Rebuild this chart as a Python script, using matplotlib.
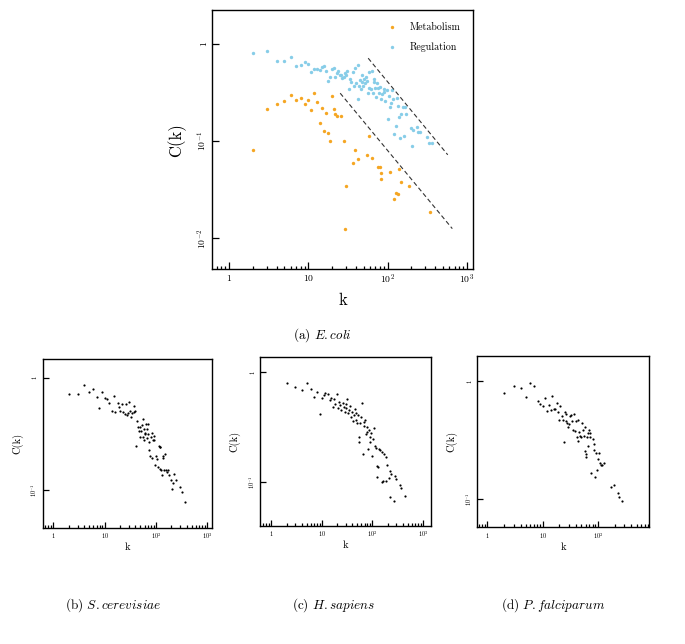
import matplotlib
matplotlib.use('Agg')
import matplotlib.pyplot as plt
from matplotlib.ticker import LogLocator, NullLocator

plt.rcParams['font.family'] = 'cmr10'
plt.rcParams['mathtext.fontset'] = 'cm'
plt.rcParams['axes.unicode_minus'] = False

# (a) E.coli - metabolism network
k_met = [2, 3, 4, 5, 6, 7, 8, 9, 10, 11, 12, 13, 14, 15, 16, 17, 18, 19, 20, 21, 22, 23, 26, 28, 29, 30,
         37, 39, 42, 55, 59, 64, 76, 80, 83, 82, 108, 122, 129, 135, 139, 148, 184, 346]
C_met = [0.082, 0.214, 0.241, 0.263, 0.299, 0.265, 0.280, 0.245, 0.265, 0.211, 0.318, 0.253, 0.155, 0.221,
         0.129, 0.196, 0.121, 0.0996, 0.292, 0.216, 0.189, 0.183, 0.182, 0.100, 0.0124, 0.0348, 0.060, 0.082,
         0.065, 0.0726, 0.114, 0.0676, 0.0542, 0.0542, 0.0474, 0.041, 0.0485, 0.0256, 0.029, 0.0284, 0.0517,
         0.0377, 0.0343, 0.0185]

# (a) E.coli - regulation network
k_reg = [2, 3, 4, 5, 6, 7, 8, 9, 10, 11, 12, 13, 14, 15, 16, 17, 18, 19, 20, 21, 22, 23, 24, 25, 26, 27, 28,
         29, 30, 31, 33, 34, 35, 37, 38, 39, 40, 42, 43, 44, 45, 46, 47, 48, 49, 51, 52, 53, 55, 56, 58, 59,
         61, 63, 65, 67, 68, 70, 72, 74, 76, 78, 81, 83, 86, 89, 91, 94, 97, 100, 103, 107, 110, 115, 118,
         122, 127, 132, 136, 140, 145, 149, 155, 161, 166, 172, 200, 201, 207, 236, 242, 255, 315, 332, 359]
C_reg = [0.807, 0.861, 0.668, 0.668, 0.746, 0.603, 0.605, 0.653, 0.628, 0.515,
         0.562, 0.557, 0.548, 0.589, 0.598, 0.536, 0.420, 0.457, 0.562, 0.575,
         0.457, 0.511, 0.536, 0.483, 0.478, 0.450, 0.465, 0.503, 0.480, 0.532,
         0.344, 0.440, 0.413, 0.523, 0.367, 0.575, 0.397, 0.608, 0.272, 0.367,
         0.430, 0.344, 0.409, 0.483, 0.373, 0.440, 0.397, 0.461, 0.420, 0.318,
         0.358, 0.515, 0.344, 0.536, 0.311, 0.406, 0.443, 0.350, 0.285, 0.403,
         0.355, 0.318, 0.361, 0.272, 0.306, 0.344, 0.323, 0.263, 0.334, 0.169,
         0.296, 0.223, 0.251, 0.334, 0.276, 0.118, 0.145, 0.278, 0.232, 0.177,
         0.108, 0.193, 0.228, 0.114, 0.228, 0.190, 0.137, 0.090, 0.130, 0.139,
         0.124, 0.124, 0.112, 0.097, 0.095]

# guide lines (slope -1)
guide_k = [[57, 573], [25.3, 654]]
guide_C = [[0.718, 0.0726], [0.313, 0.0126]]

# (b) S.cerevisiae
k_sc = [2, 3, 4, 5, 6, 7, 7.9, 8.9, 10, 11, 12, 14, 15, 16, 18, 19, 20, 21.4, 23, 24.5, 26, 27, 29, 29.4,
        31, 32.6, 34.6, 36.7, 37.8, 40, 41.4, 43, 45, 46.6, 48.8, 50, 51.8, 53.4, 55, 55.8, 57.5, 59.3, 60,
        62, 63.8, 65.8, 67.8, 69.8, 71, 73, 75, 76.4, 80, 83.6, 85, 87.5, 90, 93, 95.7, 101, 106, 109, 114,
        118, 120, 123, 127, 131, 135, 139, 143, 148, 157, 164, 171, 179, 196, 205, 218, 224, 245, 294, 316, 367]
C_sc = [0.716, 0.716, 0.855, 0.746, 0.798, 0.678, 0.542, 0.751, 0.664, 0.647,
        0.592, 0.509, 0.688, 0.500, 0.600, 0.545, 0.506, 0.580, 0.496, 0.479,
        0.584, 0.463, 0.489, 0.604, 0.506, 0.444, 0.489, 0.561, 0.499, 0.506,
        0.249, 0.415, 0.367, 0.339, 0.362, 0.299, 0.339, 0.377, 0.427, 0.295,
        0.348, 0.280, 0.325, 0.314, 0.388, 0.290, 0.348, 0.316, 0.388, 0.228,
        0.270, 0.202, 0.295, 0.192, 0.325, 0.280, 0.303, 0.277, 0.168, 0.202,
        0.188, 0.160, 0.247, 0.240, 0.156, 0.240, 0.150, 0.137, 0.202, 0.192,
        0.151, 0.210, 0.153, 0.146, 0.150, 0.137, 0.124, 0.103, 0.117, 0.140,
        0.124, 0.106, 0.097, 0.079]

# (c) H.sapiens
k_hs = [2, 3, 4, 5, 6, 7, 8, 9, 10, 10.8, 11.8, 13, 14.2, 15.3, 16.3, 17.3, 18.4, 19.9, 20.8, 21.8, 23.1,
        24.2, 25.7, 26.9, 28.2, 29.5, 30.4, 31.9, 32.9, 34.4, 36, 37.7, 38.8, 40.6, 42.6, 44.6, 46.6, 48,
        49.5, 51.1, 53.5, 55.2, 57.8, 60.4, 62.3, 65.3, 67.3, 69.4, 72.6, 74.9, 77.1, 79.6, 82, 84.6, 88.5,
        91.2, 95.5, 100, 103, 106, 111, 116, 122, 126, 130, 136, 144, 153, 158, 166, 173, 184, 187, 199,
        214, 228, 224, 238, 269, 286, 295, 349, 377, 439]
C_hs = [0.794, 0.741, 0.686, 0.794, 0.705, 0.601, 0.658, 0.415, 0.588, 0.622,
        0.644, 0.63, 0.560, 0.58, 0.488, 0.57, 0.515, 0.63, 0.471, 0.533,
        0.505, 0.455, 0.523, 0.488, 0.439, 0.516, 0.471, 0.57, 0.424, 0.455,
        0.495, 0.395, 0.436, 0.364, 0.41, 0.46, 0.37, 0.43, 0.349, 0.41,
        0.257, 0.234, 0.349, 0.39, 0.523, 0.181, 0.356, 0.325, 0.369, 0.275,
        0.289, 0.316, 0.201, 0.299, 0.257, 0.234, 0.283, 0.173, 0.246, 0.314,
        0.214, 0.204, 0.141, 0.111, 0.137, 0.200, 0.198, 0.101, 0.190, 0.103,
        0.181, 0.169, 0.103, 0.144, 0.109, 0.128, 0.074, 0.119, 0.068, 0.113,
        0.107, 0.0946, 0.0882, 0.0751]

# (d) P.falciparum
k_pf = [2, 3, 4, 5, 6, 7.1, 8.1, 9, 10, 11, 12, 13, 14, 15, 16, 17, 18, 19, 20, 21, 22, 23, 24, 25, 26,
        27, 28, 29, 30, 31.5, 32.9, 34.3, 35.7, 37.2, 38.8, 40.5, 41.6, 43.4, 44.6, 45.9, 47.8, 49.9, 51.3,
        53.5, 55.7, 58.1, 59.7, 61.5, 61, 63.2, 65, 65.9, 67.8, 70.6, 72.6, 75.7, 80, 83.5, 85.8, 89.5, 93.3,
        97.3, 100, 104, 109, 113, 118, 127, 172, 198, 234, 237, 276]
C_pf = [0.802, 0.919, 0.884, 0.741, 0.962, 0.908, 0.681, 0.643, 0.618, 0.718,
        0.561, 0.630, 0.571, 0.751, 0.58, 0.58, 0.659, 0.553, 0.470, 0.618,
        0.512, 0.47, 0.308, 0.553, 0.529, 0.461, 0.447, 0.408, 0.435, 0.51,
        0.518, 0.464, 0.387, 0.528, 0.382, 0.464, 0.335, 0.312, 0.47, 0.375,
        0.344, 0.335, 0.440, 0.387, 0.344, 0.408, 0.258, 0.227, 0.243, 0.335,
        0.283, 0.367, 0.387, 0.335, 0.362, 0.168, 0.322, 0.292, 0.264, 0.154,
        0.249, 0.177, 0.218, 0.249, 0.205, 0.195, 0.194, 0.205, 0.128, 0.132,
        0.114, 0.105, 0.0975]

x_ticks = [1, 10, 100, 1000]
x_labels = [r'$1$', r'$10$', r'$10^2$', r'$10^3$']


def style_axis(ax, xlim, ylim, yticks, ylabels, tick_fs, label_fs, maj_len, min_len, n_xticks=4):
    ax.set_xscale('log')
    ax.set_yscale('log')
    ax.set_xlim(xlim)
    ax.set_ylim(ylim)
    ax.set_xticks(x_ticks[:n_xticks], x_labels[:n_xticks])
    ax.xaxis.set_minor_locator(LogLocator(base=10, subs=range(2, 10), numticks=20))
    ax.set_yticks(yticks, ylabels)
    ax.yaxis.set_minor_locator(NullLocator())
    ax.tick_params(which='both', direction='in', top=False, right=False, width=0.9)
    ax.tick_params(which='major', length=maj_len, labelsize=tick_fs, pad=2.5)
    ax.tick_params(which='minor', length=min_len)
    plt.setp(ax.get_yticklabels(), rotation=90, va='center')
    for s in ax.spines.values():
        s.set_linewidth(1.0)
    ax.set_xlabel('k', fontsize=label_fs)
    ax.set_ylabel('C(k)', fontsize=label_fs)
    ax.xaxis.set_label_coords(0.5, -0.09)


fig = plt.figure(figsize=(6.85, 6.44), dpi=100)

# top panel
ax = fig.add_axes([0.310, 0.5818, 0.380, 0.4026])
ax.scatter(k_met, C_met, s=6, color='#f5a623', linewidths=0, label='Metabolism')
ax.scatter(k_reg, C_reg, s=6, color='#87cde8', linewidths=0, label='Regulation')
for gk, gc in zip(guide_k, guide_C):
    ax.plot(gk, gc, color='#333333', lw=0.8, ls=(0, (4, 2.5)))
style_axis(ax, (0.62, 1180), (0.0048, 2.25), [0.01, 0.1, 1], [r'$10^{-2}$', r'$10^{-1}$', r'$1$'],
           7, 12, 5, 2.5)
ax.yaxis.set_label_coords(-0.10, 0.5)
ax.legend(loc='upper right', frameon=False, fontsize=7.2, handletextpad=0.8, labelspacing=1.0,
          borderaxespad=0.8, markerscale=1.0, scatterpoints=1)
fig.text(322 / 685, 1 - 335 / 644, r'(a) $\mathit{E.coli}$', fontsize=9.5, ha='center', va='center')

# bottom panels
bottom = [
    ([0.0623, 0.1806, 0.2467, 0.2615], k_sc, C_sc, (0.62, 1224), (0.0466, 1.456), 4,
     r'(b) $\mathit{S.cerevisiae}$', 113),
    ([0.380, 0.1837, 0.2492, 0.2624], k_hs, C_hs, (0.605, 1450), (0.0403, 1.39), 4,
     r'(c) $\mathit{H.sapiens}$', 334),
    ([0.6968, 0.1812, 0.2502, 0.266], k_pf, C_pf, (0.66, 830), (0.058, 1.64), 3,
     r'(d) $\mathit{P.falciparum}$', 553),
]
for rect, kk, cc, xl, yl, nx, cap, cap_x in bottom:
    ax = fig.add_axes(rect)
    ax.scatter(kk, cc, s=2.5, color='black', linewidths=0)
    style_axis(ax, xl, yl, [0.1, 1], [r'$10^{-1}$', r'$1$'], 4.5, 7.5, 4.3, 2.2, n_xticks=nx)
    ax.yaxis.set_label_coords(-0.115, 0.5)
    fig.text(cap_x / 685, 1 - 605 / 644, cap, fontsize=9.5, ha='center', va='center')

fig.savefig('out.png', dpi=100)
